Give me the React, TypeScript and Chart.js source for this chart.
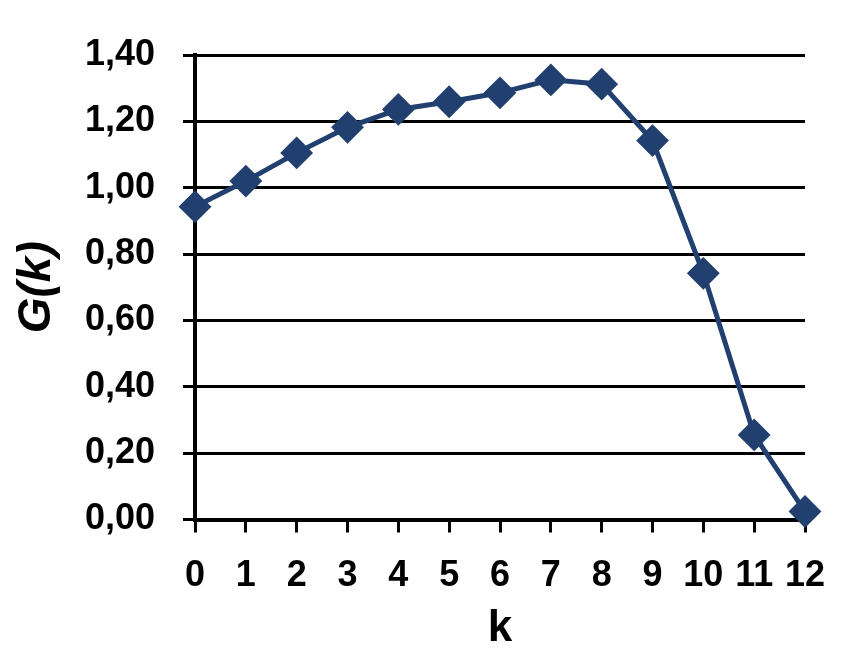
import React, { useEffect, useRef } from "react";
import { Chart, registerables } from "chart.js";

Chart.register(...registerables);

const kLabels = ["0", "1", "2", "3", "4", "5", "6", "7", "8", "9", "10", "11", "12"];
const gValues = [0.943, 1.02, 1.105, 1.182, 1.236, 1.259, 1.286, 1.325, 1.312, 1.142, 0.742, 0.255, 0.024];
const yTickValues = [0, 0.2, 0.4, 0.6, 0.8, 1.0, 1.2, 1.4];
const xTitle = "k";
const yTitle = "G(k)";

const SERIES_COLOR = "#22406f";
const FONT = "'Liberation Sans', Arial, sans-serif";

export default function App() {
  const ref = useRef<HTMLCanvasElement | null>(null);

  useEffect(() => {
    if (!ref.current) return;
    const chart = new Chart(ref.current, {
      type: "line",
      data: {
        labels: kLabels,
        datasets: [
          {
            data: gValues,
            borderColor: SERIES_COLOR,
            backgroundColor: SERIES_COLOR,
            borderWidth: 5,
            pointStyle: "rectRot",
            pointRadius: 15,
            pointBorderWidth: 2,
            pointBorderColor: SERIES_COLOR,
            pointBackgroundColor: SERIES_COLOR,
            tension: 0,
            clip: false,
          },
        ],
      },
      options: {
        animation: false,
        responsive: false,
        maintainAspectRatio: false,
        layout: { padding: { top: 55, right: 51, bottom: 0, left: 0 } },
        plugins: {
          legend: { display: false },
          tooltip: { enabled: false },
        },
        scales: {
          x: {
            type: "category",
            offset: false,
            border: { display: true, color: "#000", width: 4 },
            grid: {
              display: true,
              drawOnChartArea: false,
              drawTicks: true,
              tickLength: 13,
              color: "#000",
              lineWidth: 3,
            },
            ticks: {
              color: "#000",
              font: { family: FONT, size: 36, weight: "bold" },
              padding: 22,
              maxRotation: 0,
              autoSkip: false,
            },
            title: {
              display: true,
              text: xTitle,
              color: "#000",
              font: { family: FONT, size: 44, weight: "bold" },
              padding: { top: -10, bottom: 0 },
            },
            afterFit: (s: any) => {
              s.height = 135.5;
            },
          },
          y: {
            type: "linear",
            min: 0,
            max: 1.4,
            border: { display: true, color: "#000", width: 4 },
            grid: {
              color: "#000",
              lineWidth: 3,
              drawTicks: true,
              tickLength: 12,
            },
            ticks: {
              color: "#000",
              font: { family: FONT, size: 36, weight: "bold" },
              padding: 28,
              callback: (v: any) => Number(v).toFixed(2).replace(".", ","),
            },
            afterBuildTicks: (s: any) => {
              s.ticks = yTickValues.map((v) => ({ value: v }));
            },
            title: {
              display: true,
              text: yTitle,
              color: "#000",
              font: { family: FONT, size: 46, weight: "bold", style: "italic" },
              padding: { top: 10, bottom: 0 },
            },
            afterFit: (s: any) => {
              s.width = 195;
            },
          },
        },
      },
    });
    return () => chart.destroy();
  }, []);

  return (
    <div style={{ position: "fixed", left: 0, top: 0, width: 856, height: 655, background: "#fff" }}>
      <canvas ref={ref} width={856} height={655} style={{ width: 856, height: 655 }} />
    </div>
  );
}
